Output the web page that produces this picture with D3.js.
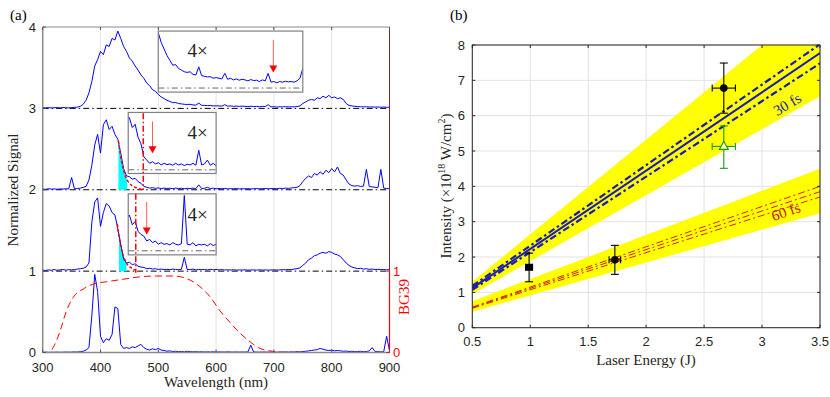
<!DOCTYPE html>
<html><head><meta charset="utf-8">
<script src="https://cdn.jsdelivr.net/npm/d3@7"></script>
<style>body{margin:0;background:#fff}svg{display:block}text{font-weight:normal}</style>
</head><body>
<script>
// ---------- DATA: panel (a) ----------
const wavelength = d3.range(300, 901, 5); // sample grid, nm
const spec3 = [0.01,0.005,0.01,0.005,0.008,0.01,0.005,0.01,0.008,0.006,0.01,0.012,0.015,0.025,0.05,0.1,0.19,0.33,0.52,0.6,0.7,0.66,0.78,0.76,0.86,0.84,0.95,0.86,0.76,0.7,0.62,0.58,0.52,0.47,0.41,0.37,0.31,0.28,0.23,0.21,0.17,0.14,0.12,0.1,0.085,0.07,0.072,0.06,0.055,0.05,0.048,0.05,0.042,0.04,0.065,0.038,0.036,0.034,0.035,0.03,0.032,0.03,0.028,0.045,0.027,0.03,0.025,0.028,0.024,0.027,0.025,0.022,0.026,0.023,0.024,0.02,0.025,0.022,0.045,0.018,0.02,0.016,0.02,0.018,0.021,0.019,0.02,0.018,0.022,0.03,0.06,0.08,0.1,0.11,0.1,0.13,0.12,0.15,0.13,0.16,0.13,0.14,0.12,0.13,0.11,0.06,0.035,0.03,0.025,0.022,0.02,0.018,0.02,0.016,0.018,0.015,0.017,0.014,0.016,0.013,0.015];
const spec2 = [0.01,0.005,0.012,0.008,0.01,0.006,0.01,0.008,0.012,0.01,0.15,0.01,0.015,0.02,0.03,0.04,0.12,0.3,0.55,0.68,0.45,0.8,0.86,0.74,0.78,0.68,0.62,0.45,0.26,0.17,0.16,0.13,0.14,0.1,0.08,0.04,0.03,0.02,0.025,0.018,0.022,0.015,0.02,0.016,0.018,0.014,0.02,0.015,0.018,0.013,0.017,0.015,0.02,0.014,0.06,0.015,0.018,0.03,0.014,0.02,0.012,0.015,0.012,0.016,0.01,0.014,0.012,0.015,0.01,0.013,0.011,0.014,0.01,0.012,0.015,0.011,0.013,0.016,0.012,0.014,0.015,0.012,0.018,0.015,0.02,0.017,0.022,0.025,0.03,0.05,0.1,0.14,0.17,0.15,0.2,0.18,0.22,0.19,0.24,0.21,0.26,0.22,0.28,0.2,0.18,0.12,0.07,0.05,0.045,0.05,0.04,0.045,0.25,0.04,0.035,0.03,0.025,0.25,0.02,0.015,0.012];
const spec1 = [0.012,0.008,0.015,0.01,0.02,0.01,0.015,0.02,0.012,0.018,0.015,0.02,0.025,0.03,0.035,0.05,0.1,0.6,0.85,0.9,0.55,0.72,0.83,0.8,0.72,0.69,0.52,0.33,0.15,0.1,0.11,0.08,0.09,0.06,0.05,0.045,0.03,0.035,0.025,0.03,0.02,0.025,0.02,0.022,0.018,0.025,0.02,0.018,0.022,0.17,0.02,0.018,0.025,0.015,0.02,0.018,0.02,0.015,0.022,0.016,0.02,0.015,0.018,0.014,0.016,0.013,0.017,0.012,0.015,0.013,0.016,0.012,0.014,0.015,0.012,0.016,0.013,0.015,0.012,0.014,0.016,0.013,0.015,0.018,0.016,0.02,0.018,0.025,0.03,0.04,0.07,0.1,0.14,0.16,0.19,0.2,0.22,0.23,0.22,0.24,0.23,0.21,0.2,0.18,0.14,0.1,0.07,0.05,0.04,0.03,0.035,0.025,0.03,0.022,0.025,0.02,0.022,0.018,0.02,0.016,0.018];
const spec0 = [0.003,0.005,0.002,0.004,0.003,0.005,0.003,0.004,0.006,0.004,0.005,0.007,0.006,0.01,0.015,0.03,0.06,0.45,0.96,0.75,0.2,0.12,0.17,0.15,0.22,0.56,0.54,0.1,0.05,0.06,0.05,0.07,0.06,0.08,0.1,0.06,0.04,0.03,0.045,0.035,0.05,0.03,0.025,0.015,0.02,0.012,0.015,0.01,0.012,0.008,0.015,0.01,0.008,0.01,0.007,0.009,0.006,0.008,0.006,0.009,0.005,0.007,0.006,0.005,0.008,0.006,0.005,0.007,0.005,0.006,0.005,0.007,0.09,0.006,0.005,0.004,0.006,0.005,0.004,0.006,0.005,0.004,0.006,0.005,0.007,0.005,0.008,0.006,0.01,0.008,0.012,0.015,0.02,0.025,0.03,0.035,0.05,0.04,0.03,0.025,0.03,0.02,0.025,0.02,0.015,0.018,0.012,0.015,0.01,0.012,0.015,0.01,0.012,0.02,0.06,0.012,0.01,0.008,0.01,0.2,0.02];
const specOffsets = [3, 2, 1, 0];
const bgWave = [300,312,318,330,341,353,370,387,411,439,468,497,526,555,572,589,607,624,641,659,676,693,710,750,800,850,900];
const bgVal  = [0,0,0.06,0.26,0.51,0.68,0.78,0.84,0.87,0.9,0.93,0.94,0.94,0.89,0.81,0.69,0.51,0.37,0.24,0.13,0.05,0.02,0.005,0,0,0,0];
const fit2Wave = [431,434,437,440,443,446,450,455,460,465,470,474];
const fit2Val  = [0.6,0.45,0.33,0.24,0.17,0.12,0.08,0.05,0.03,0.015,0.005,0];
const fit1Wave = [429,432,435,438,441,444,448,452,456,461];
const fit1Val  = [0.58,0.43,0.31,0.22,0.16,0.11,0.07,0.045,0.025,0.01];
const cyanRange2 = [431, 446];
const cyanRange1 = [431, 445];
const cutLine2 = 474, cutLine1 = 461;
const insets = [
  {spec: spec3, w: [500, 750], base: 3.25, lo: 3.2, hi: 3.95, arrowW: 699, arrow: [3.84, 3.44], labelW: 568, labelV: 3.63},
  {spec: spec2, w: [448, 600], base: 2.245, lo: 2.2, hi: 2.95, arrowW: 490, arrow: [2.84, 2.45], labelW: 568, labelV: 2.62},
  {spec: spec1, w: [448, 600], base: 1.25, lo: 1.2, hi: 1.95, arrowW: 480, arrow: [1.85, 1.45], labelW: 568, labelV: 1.61}
];
const insetGain = 4;
const xTicksA = [300,400,500,600,700,800,900];
const yTicksA = [0,1,2,3,4];
const yTicksBG = [0,1];

// ---------- DATA: panel (b) ----------
const lineEnergy = [0.5, 3.5];
const band30Hi = [1.3, 9.34], band30Lo = [0.95, 6.55];
const band60Hi = [0.75, 4.5], band60Lo = [0.45, 3.24];
const fit30 = [1.12, 7.77], fit30Hi = [1.18, 8.02], fit30Lo = [1.07, 7.48];
const fit60 = [[0.58, 4.0], [0.57, 3.85], [0.55, 3.7]];
const points = [
  {e: 2.67, i: 6.78, ex: 0.1, iLo: 6.07, iHi: 7.49, shape: "circle", color: "#000"},
  {e: 2.67, i: 5.13, ex: 0.1, iLo: 4.51, iHi: 5.71, shape: "triangle", color: "#1a9a1a"},
  {e: 0.99, i: 1.71, ex: 0.03, iLo: 1.30, iHi: 2.11, shape: "square", color: "#000"},
  {e: 1.73, i: 1.92, ex: 0.05, iLo: 1.51, iHi: 2.33, shape: "circle", color: "#000"}
];
const xTicksB = [0.5,1,1.5,2,2.5,3,3.5];
const yTicksB = [0,1,2,3,4,5,6,7,8];

// ---------- DRAW ----------
const svg = d3.select("body").append("svg").attr("width", 830).attr("height", 397);
const SANS = "Liberation Sans, Arial, sans-serif", SERIF = "Liberation Serif, Times New Roman, serif";
const DASHDOT = "6,3,1.5,3";

// ===== Panel (a) =====
const xa = d3.scaleLinear().domain([300, 900]).range([42.7, 389.5]);
const ya = d3.scaleLinear().domain([0, 4]).range([352.5, 27]);
const A = svg.append("g");
A.append("clipPath").attr("id", "clipA").append("rect")
  .attr("x", xa(300)).attr("y", ya(4)).attr("width", xa(900) - xa(300)).attr("height", ya(0) - ya(4));

A.selectAll("line.grid").data(xTicksA.slice(1, -1)).join("line")
  .attr("x1", d => xa(d)).attr("x2", d => xa(d)).attr("y1", ya(0)).attr("y2", ya(4))
  .attr("stroke", "#e3e3e3").attr("stroke-width", 1);
A.selectAll("line.base").data(specOffsets.filter(d => d > 0)).join("line")
  .attr("x1", xa(300)).attr("x2", xa(900)).attr("y1", d => ya(d)).attr("y2", d => ya(d))
  .attr("stroke", "#000").attr("stroke-width", 1).attr("stroke-dasharray", DASHDOT);

const gA = A.append("g").attr("clip-path", "url(#clipA)");
function fitInterp(ws, vs, w) {
  for (let k = 0; k < ws.length - 1; k++) if (w >= ws[k] && w <= ws[k + 1]) {
    const t = (w - ws[k]) / (ws[k + 1] - ws[k]); return vs[k] + t * (vs[k + 1] - vs[k]);
  }
  return 0;
}
[[fit2Wave, fit2Val, cyanRange2, 2], [fit1Wave, fit1Val, cyanRange1, 1]].forEach(([ws, vs, rg, off]) => {
  const pts = ws.map((w, k) => [w, vs[k]]).filter(p => p[0] >= rg[0] && p[0] <= rg[1]);
  if (pts[pts.length - 1][0] < rg[1]) pts.push([rg[1], fitInterp(ws, vs, rg[1])]);
  gA.append("path").datum(pts)
    .attr("d", d3.area().x(p => xa(p[0])).y0(ya(off)).y1(p => ya(off + p[1])).curve(d3.curveMonotoneX))
    .attr("fill", "#00ffff");
});
const specLine = off => d3.line().x((d, k) => xa(wavelength[k])).y(d => ya(off + d));
[spec3, spec2, spec1, spec0].forEach((s, k) => {
  gA.append("path").datum(s).attr("d", specLine(specOffsets[k]))
    .attr("fill", "none").attr("stroke", "#0000ff").attr("stroke-width", 1);
});
[[fit2Wave, fit2Val, 2], [fit1Wave, fit1Val, 1]].forEach(([ws, vs, off]) => {
  gA.append("path").datum(ws.map((w, k) => [w, vs[k]]))
    .attr("d", d3.line().x(p => xa(p[0])).y(p => ya(off + p[1])).curve(d3.curveMonotoneX))
    .attr("fill", "none").attr("stroke", "#ff0000").attr("stroke-width", 1.5).attr("stroke-dasharray", "3,2");
});
gA.append("path").datum(bgWave.map((w, k) => [w, bgVal[k]]))
  .attr("d", d3.line().x(p => xa(p[0])).y(p => ya(p[1])).curve(d3.curveMonotoneX))
  .attr("fill", "none").attr("stroke", "#ff0000").attr("stroke-width", 1).attr("stroke-dasharray", "7,4");

insets.forEach((ins, n) => {
  const id = "clipIn" + n;
  const bx = xa(ins.w[0]), bw = xa(ins.w[1]) - xa(ins.w[0]);
  const by = ya(ins.hi), bh = ya(ins.lo) - ya(ins.hi);
  A.append("clipPath").attr("id", id).append("rect").attr("x", bx).attr("y", by).attr("width", bw).attr("height", bh);
  A.append("rect").attr("x", bx).attr("y", by).attr("width", bw).attr("height", bh).attr("fill", "#fff");
  const g = A.append("g").attr("clip-path", `url(#${id})`);
  g.append("line").attr("x1", bx).attr("x2", bx + bw).attr("y1", ya(ins.base)).attr("y2", ya(ins.base))
    .attr("stroke", "#666").attr("stroke-width", 1).attr("stroke-dasharray", DASHDOT);
  g.append("path").datum(ins.spec).attr("d", d3.line().x((d, k) => xa(wavelength[k])).y(d => ya(ins.base + insetGain * d)))
    .attr("fill", "none").attr("stroke", "#0000ff").attr("stroke-width", 1);
  A.append("rect").attr("x", bx).attr("y", by).attr("width", bw).attr("height", bh)
    .attr("fill", "none").attr("stroke", "#808080").attr("stroke-width", 1.2);
  A.append("text").attr("x", xa(ins.labelW)).attr("y", ya(ins.labelV)).attr("text-anchor", "middle")
    .attr("font-family", SERIF).attr("font-size", 19).attr("fill", "#222").text("4×");
  const ax = xa(ins.arrowW), ay0 = ya(ins.arrow[0]), ay1 = ya(ins.arrow[1]);
  A.append("line").attr("x1", ax).attr("x2", ax).attr("y1", ay0).attr("y2", ay1 - 5)
    .attr("stroke", "#ff5a5a").attr("stroke-width", 1);
  A.append("path").attr("d", `M${ax - 4},${ay1 - 7}L${ax + 4},${ay1 - 7}L${ax},${ay1}Z`).attr("fill", "#ff0000");
});
[[cutLine2, 2.94, 2.0], [cutLine1, 1.95, 0.98]].forEach(([w, v0, v1]) => {
  A.append("line").attr("x1", xa(w)).attr("x2", xa(w)).attr("y1", ya(v0)).attr("y2", ya(v1))
    .attr("stroke", "#ff0000").attr("stroke-width", 1.5).attr("stroke-dasharray", "6,2.5,1.5,2.5");
});

A.append("line").attr("x1", xa(300)).attr("x2", xa(900)).attr("y1", ya(4)).attr("y2", ya(4)).attr("stroke", "#8a8a8a");
A.append("line").attr("x1", xa(300)).attr("x2", xa(900)).attr("y1", ya(0)).attr("y2", ya(0)).attr("stroke", "#8a8a8a").attr("stroke-width", 1.5);
A.append("line").attr("x1", xa(300)).attr("x2", xa(300)).attr("y1", ya(0)).attr("y2", ya(4)).attr("stroke", "#8a8a8a").attr("stroke-width", 1.5);
A.append("line").attr("x1", xa(900)).attr("x2", xa(900)).attr("y1", ya(1)).attr("y2", ya(4)).attr("stroke", "#7a2a2a");
A.append("line").attr("x1", xa(900)).attr("x2", xa(900)).attr("y1", ya(0)).attr("y2", ya(1)).attr("stroke", "#ff0000").attr("stroke-width", 1.2);
A.selectAll("line.xt").data(xTicksA).join("line")
  .attr("x1", d => xa(d)).attr("x2", d => xa(d)).attr("y1", ya(0)).attr("y2", ya(0) - 3).attr("stroke", "#555");
A.selectAll("line.xtt").data(xTicksA).join("line")
  .attr("x1", d => xa(d)).attr("x2", d => xa(d)).attr("y1", ya(4)).attr("y2", ya(4) + 3).attr("stroke", "#555");
A.selectAll("line.yt").data(yTicksA).join("line")
  .attr("x1", xa(300)).attr("x2", xa(300) + 3).attr("y1", d => ya(d)).attr("y2", d => ya(d)).attr("stroke", "#555");
A.selectAll("line.yr").data(yTicksBG).join("line")
  .attr("x1", xa(900)).attr("x2", xa(900) - 3).attr("y1", d => ya(d)).attr("y2", d => ya(d)).attr("stroke", "#ff0000");
A.selectAll("text.xl").data(xTicksA).join("text")
  .attr("x", d => xa(d)).attr("y", 372).attr("text-anchor", "middle")
  .attr("font-family", SANS).attr("font-size", 13).attr("fill", "#262626").text(d => d);
A.selectAll("text.yl").data(yTicksA).join("text")
  .attr("x", 36).attr("y", d => ya(d) + 4.5).attr("text-anchor", "end")
  .attr("font-family", SANS).attr("font-size", 13).attr("fill", "#262626").text(d => d);
A.selectAll("text.yr").data(yTicksBG).join("text")
  .attr("x", 393).attr("y", d => ya(d) + 4.5).attr("text-anchor", "start")
  .attr("font-family", SANS).attr("font-size", 13).attr("fill", "#ff0000").text(d => d);
A.append("text").attr("x", 216).attr("y", 387).attr("text-anchor", "middle")
  .attr("font-family", SERIF).attr("font-size", 15).attr("fill", "#262626").text("Wavelength (nm)");
A.append("text").attr("transform", "translate(18,190) rotate(-90)").attr("text-anchor", "middle")
  .attr("font-family", SERIF).attr("font-size", 15).attr("fill", "#262626").text("Normalized Signal");
A.append("text").attr("transform", "translate(409,297) rotate(-90)").attr("text-anchor", "middle")
  .attr("font-family", SERIF).attr("font-size", 15).attr("fill", "#ff0000").text("BG39");
A.append("text").attr("x", 10).attr("y", 20).attr("font-family", SERIF).attr("font-size", 15).attr("fill", "#000").text("(a)");

// ===== Panel (b) =====
const xb = d3.scaleLinear().domain([0.5, 3.5]).range([472.3, 820]);
const yb = d3.scaleLinear().domain([0, 8]).range([327.7, 45]);
const B = svg.append("g");
B.append("clipPath").attr("id", "clipB").append("rect")
  .attr("x", xb(0.5)).attr("y", yb(8)).attr("width", xb(3.5) - xb(0.5)).attr("height", yb(0) - yb(8));
B.selectAll("line.gx").data(xTicksB).join("line")
  .attr("x1", d => xb(d)).attr("x2", d => xb(d)).attr("y1", yb(0)).attr("y2", yb(8)).attr("stroke", "#e3e3e3");
B.selectAll("line.gy").data(yTicksB).join("line")
  .attr("x1", xb(0.5)).attr("x2", xb(3.5)).attr("y1", d => yb(d)).attr("y2", d => yb(d)).attr("stroke", "#e3e3e3");
const gB = B.append("g").attr("clip-path", "url(#clipB)");
const band = (lo, hi) => d3.area().x((d, k) => xb(lineEnergy[k])).y0((d, k) => yb(lo[k])).y1((d, k) => yb(hi[k]));
gB.append("path").datum(lineEnergy).attr("d", band(band30Lo, band30Hi)).attr("fill", "#ffff00");
gB.append("path").datum(lineEnergy).attr("d", band(band60Lo, band60Hi)).attr("fill", "#ffff00");
const ln = d3.line().x((d, k) => xb(lineEnergy[k])).y(d => yb(d));
fit60.forEach(f => gB.append("path").datum(f).attr("d", ln).attr("fill", "none")
  .attr("stroke", "#d42020").attr("stroke-width", 1).attr("stroke-dasharray", "7,3,2,3"));
[fit30Hi, fit30Lo].forEach(f => gB.append("path").datum(f).attr("d", ln).attr("fill", "none")
  .attr("stroke", "#1c1cb0").attr("stroke-width", 2.2).attr("stroke-dasharray", "7,3,2.5,3"));
gB.append("path").datum(fit30).attr("d", ln).attr("fill", "none").attr("stroke", "#1c1cb0").attr("stroke-width", 2);

points.forEach(p => {
  const g = B.append("g").attr("stroke", p.color).attr("stroke-width", 1.1);
  const cx = xb(p.e), cy = yb(p.i);
  g.append("line").attr("x1", cx).attr("x2", cx).attr("y1", yb(p.iLo)).attr("y2", yb(p.iHi));
  g.append("line").attr("x1", cx - 4).attr("x2", cx + 4).attr("y1", yb(p.iLo)).attr("y2", yb(p.iLo));
  g.append("line").attr("x1", cx - 4).attr("x2", cx + 4).attr("y1", yb(p.iHi)).attr("y2", yb(p.iHi));
  g.append("line").attr("x1", xb(p.e - p.ex)).attr("x2", xb(p.e + p.ex)).attr("y1", cy).attr("y2", cy);
  g.append("line").attr("x1", xb(p.e - p.ex)).attr("x2", xb(p.e - p.ex)).attr("y1", cy - 3.5).attr("y2", cy + 3.5);
  g.append("line").attr("x1", xb(p.e + p.ex)).attr("x2", xb(p.e + p.ex)).attr("y1", cy - 3.5).attr("y2", cy + 3.5);
  if (p.shape === "circle") B.append("circle").attr("cx", cx).attr("cy", cy).attr("r", 3.8).attr("fill", p.color);
  if (p.shape === "square") B.append("rect").attr("x", cx - 3.5).attr("y", cy - 3.5).attr("width", 7).attr("height", 7).attr("fill", p.color);
  if (p.shape === "triangle") B.append("path").attr("d", `M${cx},${cy - 5}L${cx + 4.5},${cy + 3}L${cx - 4.5},${cy + 3}Z`)
    .attr("fill", "#ffffc0").attr("stroke", p.color).attr("stroke-width", 1.1);
});
B.append("text").attr("transform", `translate(${xb(3.24)},${yb(6.2)}) rotate(-31)`).attr("text-anchor", "middle")
  .attr("font-family", SERIF).attr("font-size", 15).attr("fill", "#1c1cb0").text("30 fs");
B.append("text").attr("transform", `translate(${xb(3.22)},${yb(3.15)}) rotate(-19)`).attr("text-anchor", "middle")
  .attr("font-family", SERIF).attr("font-size", 15).attr("fill", "#c01818").text("60 fs");

B.append("rect").attr("x", xb(0.5)).attr("y", yb(8)).attr("width", xb(3.5) - xb(0.5)).attr("height", yb(0) - yb(8))
  .attr("fill", "none").attr("stroke", "#262626").attr("stroke-width", 1);
B.selectAll("line.xtb").data(xTicksB).join("line")
  .attr("x1", d => xb(d)).attr("x2", d => xb(d)).attr("y1", yb(0)).attr("y2", yb(0) - 3).attr("stroke", "#262626");
B.selectAll("line.xtt").data(xTicksB).join("line")
  .attr("x1", d => xb(d)).attr("x2", d => xb(d)).attr("y1", yb(8)).attr("y2", yb(8) + 3).attr("stroke", "#262626");
B.selectAll("line.ytl").data(yTicksB).join("line")
  .attr("x1", xb(0.5)).attr("x2", xb(0.5) + 3).attr("y1", d => yb(d)).attr("y2", d => yb(d)).attr("stroke", "#262626");
B.selectAll("line.ytr").data(yTicksB).join("line")
  .attr("x1", xb(3.5)).attr("x2", xb(3.5) - 3).attr("y1", d => yb(d)).attr("y2", d => yb(d)).attr("stroke", "#262626");
B.selectAll("text.xlb").data(xTicksB).join("text")
  .attr("x", d => xb(d)).attr("y", 346).attr("text-anchor", "middle")
  .attr("font-family", SANS).attr("font-size", 13).attr("fill", "#262626").text(d => d);
B.selectAll("text.ylb").data(yTicksB).join("text")
  .attr("x", 465).attr("y", d => yb(d) + 4.5).attr("text-anchor", "end")
  .attr("font-family", SANS).attr("font-size", 13).attr("fill", "#262626").text(d => d);
B.append("text").attr("x", 646).attr("y", 365).attr("text-anchor", "middle")
  .attr("font-family", SERIF).attr("font-size", 15).attr("fill", "#262626").text("Laser Energy (J)");
const yl = B.append("text").attr("transform", "translate(451,186) rotate(-90)").attr("text-anchor", "middle")
  .attr("font-family", SERIF).attr("font-size", 15).attr("fill", "#262626");
yl.append("tspan").text("Intensity (×10");
yl.append("tspan").attr("dy", -6).attr("font-size", 10).text("18");
yl.append("tspan").attr("dy", 6).text(" W/cm");
yl.append("tspan").attr("dy", -6).attr("font-size", 10).text("2");
yl.append("tspan").attr("dy", 6).text(")");
B.append("text").attr("x", 450).attr("y", 20).attr("font-family", SERIF).attr("font-size", 15).attr("fill", "#000").text("(b)");
</script>
</body></html>
